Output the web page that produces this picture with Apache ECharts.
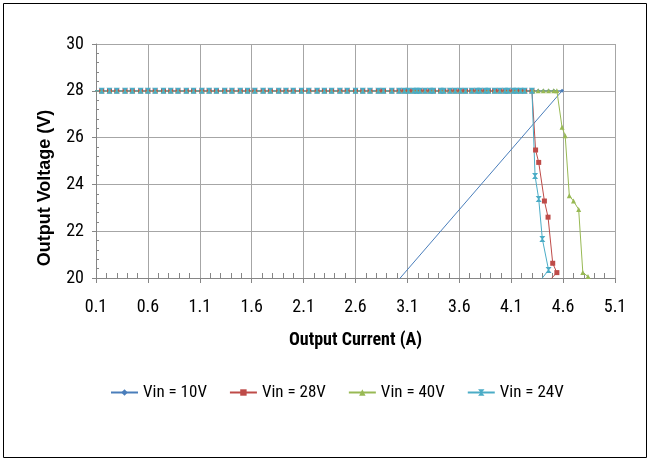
<!DOCTYPE html>
<html>
<head>
<meta charset="utf-8">
<script src="https://cdn.jsdelivr.net/npm/echarts@6/dist/echarts.min.js"></script>
<style>
html,body{margin:0;padding:0;background:#fff;}
#chart{width:652px;height:464px;}
</style>
</head>
<body>
<div id="chart"></div>
<script>
// ---- data ----
var seriesNames = ['Vin = 10V', 'Vin = 28V', 'Vin = 40V', 'Vin = 24V'];
var xTickLabels = ['0.1','0.6','1.1','1.6','2.1','2.6','3.1','3.6','4.1','4.6','5.1'];
var yTickLabels = ['20','22','24','26','28','30'];
var xAxisTitle = 'Output Current (A)';
var yAxisTitle = 'Output Voltage (V)';

// regulated region: output current samples where Vout = 28 V
var flatCurrents = [0.05, 0.155, 0.23, 0.30, 0.38, 0.45, 0.53, 0.60, 0.67, 0.75, 0.82, 0.89, 0.97,
  1.04, 1.12, 1.19, 1.26, 1.34, 1.41, 1.49, 1.56, 1.63, 1.71, 1.78, 1.86, 1.93,
  2.00, 2.08, 2.15, 2.23, 2.30, 2.37, 2.45, 2.52, 2.60, 2.67, 2.74, 2.82, 2.87,
  2.95, 3.02, 3.07, 3.11, 3.16, 3.19, 3.22, 3.27, 3.32, 3.35, 3.42, 3.45, 3.51,
  3.56, 3.61, 3.66, 3.72, 3.77, 3.80, 3.85, 3.88, 3.94, 3.99, 4.04, 4.07, 4.12,
  4.15, 4.19, 4.23, 4.30];
var flatVoltage = 28;

// current-limit tails
var vin10TailI = [4.31, 4.36, 4.41, 4.46, 4.51, 4.59, 2.90];
var vin10TailV = [28, 28, 28, 28, 28, 28, 19.33];
var vin28TailI = [4.335, 4.365, 4.42, 4.455, 4.50, 4.54, 4.45];
var vin28TailV = [25.47, 24.94, 23.29, 22.60, 20.63, 20.23, 19.8];
var vin40TailI = [4.31, 4.36, 4.41, 4.46, 4.51, 4.54, 4.59, 4.62, 4.66, 4.70, 4.75, 4.79, 4.84, 4.90];
var vin40TailV = [28, 28, 28, 28, 28, 28, 26.44, 26.08, 23.52, 23.29, 22.93, 20.24, 20.06, 19.8];
var vin24TailI = [4.33, 4.365, 4.40, 4.46, 4.365];
var vin24TailV = [24.36, 23.38, 21.67, 20.34, 19.8];

function build(tailI, tailV) {
  var pts = flatCurrents.map(function (x) { return [x, flatVoltage]; });
  for (var i = 0; i < tailI.length; i++) pts.push([tailI[i], tailV[i]]);
  return pts;
}

var colors = ['#4A7EBB', '#BE4B48', '#98B954', '#4BACC6'];
var hourglass = 'path://M0,0 L10,0 L6,5 L10,10 L0,10 L4,5 Z';
var symbols = ['diamond', 'rect', 'triangle', hourglass];
var symbolSizes = [4, 5, 5, 6];
var tails = [[vin10TailI, vin10TailV], [vin28TailI, vin28TailV], [vin40TailI, vin40TailV], [vin24TailI, vin24TailV]];

var narrow = "'Roboto Condensed', 'DejaVu Sans Condensed', sans-serif";

var series = seriesNames.map(function (name, k) {
  return {
    name: name, type: 'line',
    data: build(tails[k][0], tails[k][1]),
    symbol: symbols[k], symbolSize: symbolSizes[k],
    showAllSymbol: true, clip: true,
    lineStyle: { color: colors[k], width: 1 },
    itemStyle: { color: colors[k] },
    emphasis: { disabled: true }, animation: false
  };
});

var chart = echarts.init(document.getElementById('chart'), null, { renderer: 'canvas' });
chart.setOption({
  animation: false,
  backgroundColor: '#fff',
  color: colors,
  grid: { left: 96, top: 44, right: 37, bottom: 186, containLabel: false },
  graphic: [{
    type: 'rect',
    shape: { x: 3.5, y: 3.5, width: 643, height: 454 },
    style: { fill: 'none', stroke: '#000', lineWidth: 1 },
    silent: true
  }, {
    type: 'text',
    x: 45, y: 188,
    rotation: Math.PI / 2,
    style: {
      text: yAxisTitle,
      font: "bold 18px 'Liberation Sans', Arial, sans-serif",
      fill: '#000', align: 'center', verticalAlign: 'middle'
    },
    silent: true
  }],
  legend: {
    left: 105, top: 379,
    itemWidth: 27, itemHeight: 8, itemGap: 22,
    textStyle: { fontFamily: narrow, fontSize: 17, color: '#000' },
    data: seriesNames
  },
  xAxis: {
    type: 'value', min: 0.1, max: 5.1, interval: 0.5,
    name: xAxisTitle, nameLocation: 'middle', nameGap: 53,
    nameTextStyle: { fontFamily: narrow, fontSize: 18, fontWeight: 'bold', color: '#000' },
    axisLine: { show: true, onZero: false, lineStyle: { color: '#868686', width: 1 } },
    axisTick: { show: true, inside: false, length: 5, lineStyle: { color: '#868686' } },
    minorTick: { show: true, splitNumber: 5, length: -5, lineStyle: { color: '#868686' } },
    axisLabel: {
      margin: 20, fontFamily: narrow, fontSize: 18, color: '#000',
      formatter: function (v) {
        var s = (Math.round(v * 10) / 10).toFixed(1);
        return xTickLabels.indexOf(s) >= 0 ? s : '';
      }
    },
    splitLine: { show: true, lineStyle: { color: '#A6A6A6', width: 1 } }
  },
  yAxis: {
    type: 'value', min: 20, max: 30, interval: 2,
    axisLine: { show: true, lineStyle: { color: '#868686', width: 1 } },
    axisTick: { show: true, inside: false, length: 4, lineStyle: { color: '#868686' } },
    minorTick: { show: true, splitNumber: 5, length: -3, lineStyle: { color: '#868686' } },
    axisLabel: {
      margin: 12, fontFamily: narrow, fontSize: 18, color: '#000',
      formatter: function (v) {
        var s = String(Math.round(v));
        return yTickLabels.indexOf(s) >= 0 ? s : '';
      }
    },
    splitLine: { show: true, lineStyle: { color: '#A6A6A6', width: 1 } }
  },
  series: series
});
</script>
</body>
</html>
